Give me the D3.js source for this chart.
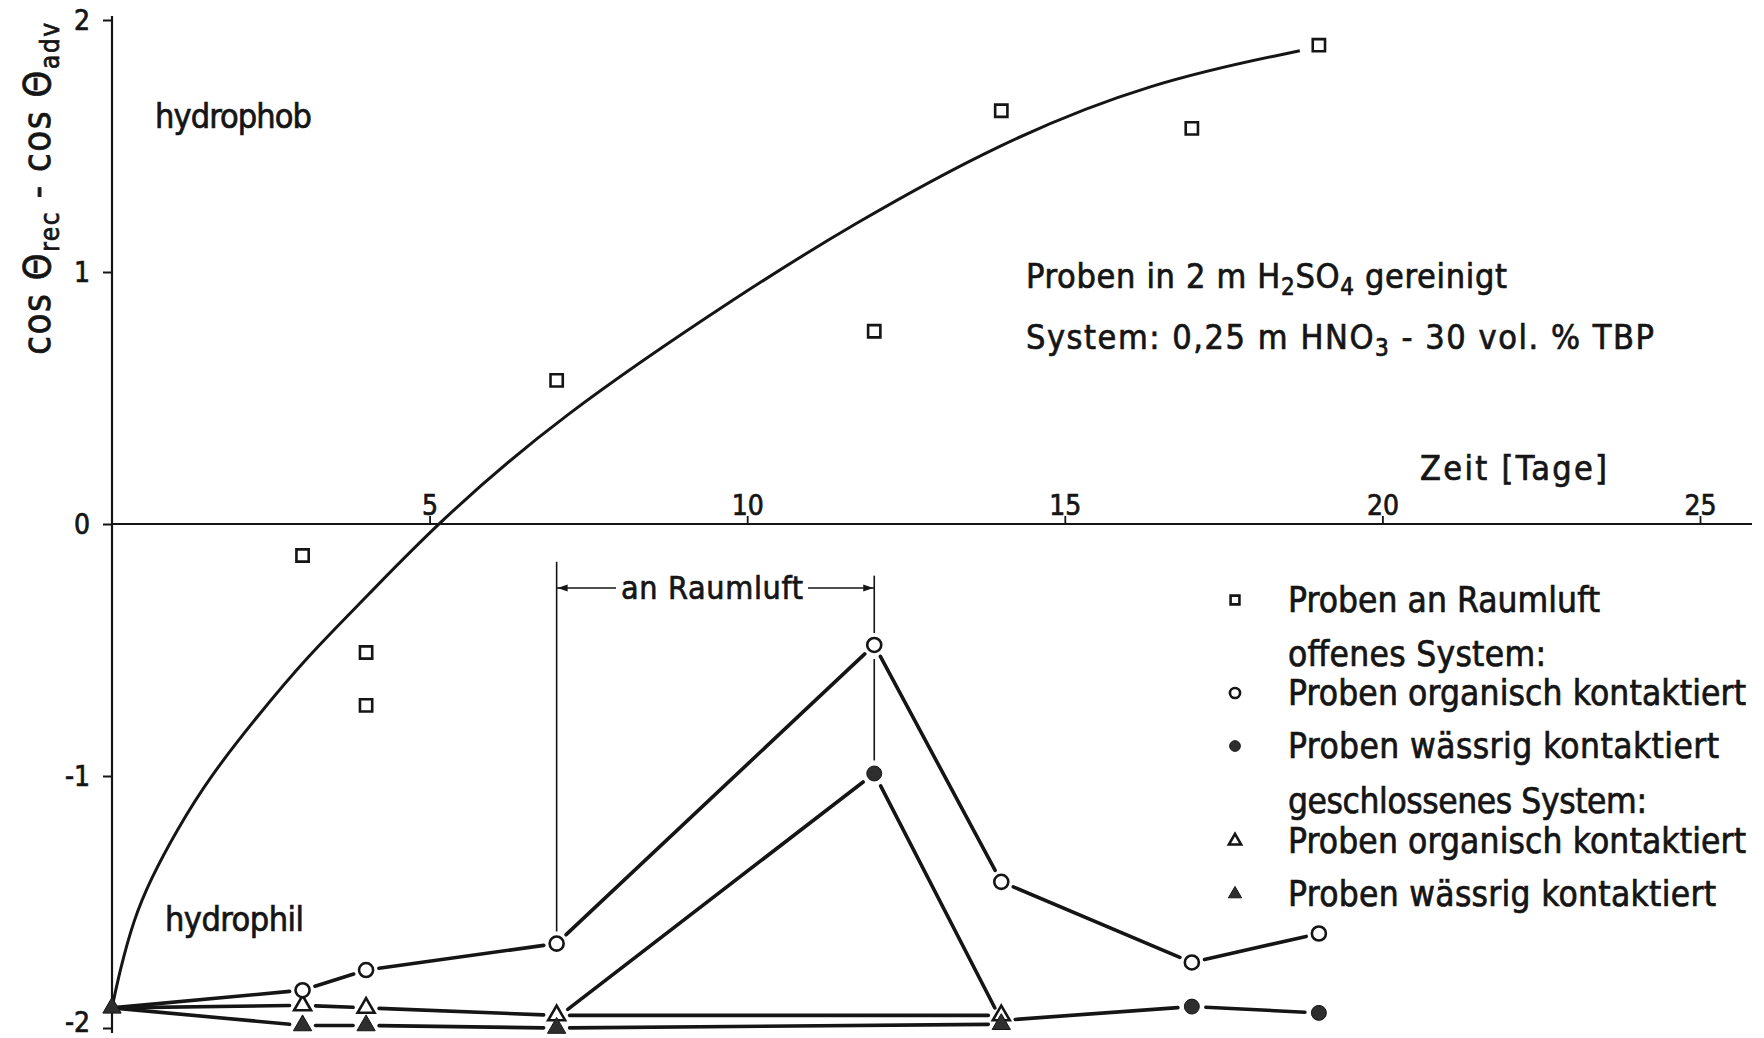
<!DOCTYPE html>
<html><head><meta charset="utf-8">
<script src="https://cdn.jsdelivr.net/npm/d3@7"></script>
<style>
body{margin:0;background:#fff}
svg{display:block}
text{font-family:'Liberation Sans Narrow','DejaVu Sans Condensed',sans-serif;fill:#151515;stroke:#151515;stroke-width:0.7px}
</style>
</head><body>
<svg id="chart" width="1764" height="1038"></svg>
<script>
// ---------- data ----------
const xTicks = [5, 10, 15, 20, 25];
const yTicks = [2, 1, 0, -1, -2];

// Proben an Raumluft (squares)
const raumluftTage  = [3, 4, 4, 7, 12, 14, 17, 19];
const raumluftWerte = [-0.125, -0.51, -0.72, 0.57, 0.765, 1.64, 1.57, 1.90];

// hand-drawn trend curve through the squares
const kurveTage  = [0, 0.126, 0.34, 0.60, 1.02, 1.54, 2.28, 3.07, 4.01, 5.11, 7, 10, 11.6, 13.94, 16.36, 18.7];
const kurveWerte = [-1.92, -1.77, -1.571, -1.413, -1.214, -1.003, -0.765, -0.527, -0.288, 0, 0.42, 0.93, 1.18, 1.51, 1.755, 1.878];

// offenes System
const orgOffenTage    = [0, 3, 4, 7, 12, 14, 17, 19];
const orgOffenWerte   = [-1.92, -1.85, -1.77, -1.665, -0.48, -1.42, -1.74, -1.625];
const waessOffenTage  = [7, 12, 14, 17, 19];
const waessOffenWerte = [-1.96, -0.99, -1.97, -1.915, -1.94];

// geschlossenes System
const orgGeschlTage    = [0, 3, 4, 7, 14];
const orgGeschlWerte   = [-1.92, -1.91, -1.92, -1.95, -1.95];
const waessGeschlTage  = [0, 3, 4, 7, 14];
const waessGeschlWerte = [-1.92, -1.99, -1.99, -2.0, -1.985];

// "an Raumluft" interval
const raumluftVon = 7, raumluftBis = 12, raumluftPfeilWert = -0.254;

const legendTexte = ["Proben an Raumluft", "offenes System:", "Proben organisch kontaktiert",
  "Proben wässrig kontaktiert", "geschlossenes System:", "Proben organisch kontaktiert", "Proben wässrig kontaktiert"];
const legendSymbole = ["square", null, "circleOpen", "circleFilled", null, "triOpen", "triFilled"];

// ---------- scales ----------
const svg = d3.select("#chart");
const x = d3.scaleLinear().domain([0, 25]).range([112, 1700]);
const y = d3.scaleLinear().domain([-2, 2]).range([1028, 20]);
const ink = "#151515", fillInk = "#2e2e2e";
const FONT = "'Liberation Sans Narrow','DejaVu Sans Condensed',sans-serif";

// ---------- axes ----------
const yAxis = d3.axisLeft(y).tickValues(yTicks).tickSize(9).tickPadding(13)
  .tickFormat(d => d < 0 ? "-" + Math.abs(d) : String(d));
const gy = svg.append("g").attr("transform", `translate(${x(0)},0)`).call(yAxis);
gy.select(".domain").remove();
gy.selectAll("line").attr("stroke", ink).attr("stroke-width", 2);
gy.selectAll("text").attr("font-size", 28).attr("dy", d => d === -2 ? "0.12em" : "0.33em")
  .style("font-family", FONT).attr("fill", ink);

const xAxis = d3.axisTop(x).tickValues(xTicks).tickSize(8).tickPadding(1).tickFormat(d => String(d));
const gx = svg.append("g").attr("transform", `translate(0,${y(0)})`).call(xAxis);
gx.select(".domain").remove();
gx.selectAll("line").attr("stroke", ink).attr("stroke-width", 1.8);
gx.selectAll("text").attr("font-size", 28).style("font-family", FONT).attr("fill", ink);

// axis lines
svg.append("line").attr("x1", x(0)).attr("x2", x(0)).attr("y1", y(2) - 4).attr("y2", y(-2) + 5)
  .attr("stroke", ink).attr("stroke-width", 2.2);
svg.append("line").attr("x1", x(0)).attr("x2", 1752).attr("y1", y(0)).attr("y2", y(0))
  .attr("stroke", ink).attr("stroke-width", 2.2);

// axis titles
const yt = svg.append("text").attr("transform", `translate(50,${y(1.33)}) rotate(-90)`)
  .attr("text-anchor", "middle").attr("font-size", 38).attr("textLength", 332).attr("lengthAdjust", "spacing");
yt.append("tspan").text("cos Θ");
yt.append("tspan").attr("dy", 9).attr("font-size", 26).text("rec");
yt.append("tspan").attr("dy", -9).text(" - cos Θ");
yt.append("tspan").attr("dy", 9).attr("font-size", 26).text("adv");

svg.append("text").attr("x", 1420).attr("y", 480).attr("font-size", 34)
  .attr("textLength", 187).attr("lengthAdjust", "spacing").text("Zeit [Tage]");

// annotations
svg.append("text").attr("x", 155).attr("y", 128).attr("font-size", 34)
  .attr("textLength", 157).attr("lengthAdjust", "spacing").text("hydrophob");
svg.append("text").attr("x", 165).attr("y", 931).attr("font-size", 34)
  .attr("textLength", 139).attr("lengthAdjust", "spacing").text("hydrophil");

const t1 = svg.append("text").attr("x", 1026).attr("y", 288).attr("font-size", 34)
  .attr("textLength", 481).attr("lengthAdjust", "spacing");
t1.append("tspan").text("Proben in 2 m H");
t1.append("tspan").attr("dy", 7).attr("font-size", 24).text("2");
t1.append("tspan").attr("dy", -7).text("SO");
t1.append("tspan").attr("dy", 7).attr("font-size", 24).text("4");
t1.append("tspan").attr("dy", -7).text(" gereinigt");

const t2 = svg.append("text").attr("x", 1026).attr("y", 349).attr("font-size", 34)
  .attr("textLength", 628).attr("lengthAdjust", "spacing");
t2.append("tspan").text("System: 0,25 m HNO");
t2.append("tspan").attr("dy", 7).attr("font-size", 24).text("3");
t2.append("tspan").attr("dy", -7).text(" - 30 vol. % TBP");

// ---------- trend curve ----------
const kurve = kurveTage.map((d, i) => [d, kurveWerte[i]]);
svg.append("path").datum(kurve)
  .attr("d", d3.line().x(d => x(d[0])).y(d => y(d[1])).curve(d3.curveBasis))
  .attr("fill", "none").attr("stroke", ink).attr("stroke-width", 3);

// ---------- "an Raumluft" bracket ----------
const seg = d3.line().x(d => d[0]).y(d => d[1]);
const thin = (pts) => svg.append("path").attr("d", seg(pts)).attr("fill", "none").attr("stroke", ink).attr("stroke-width", 1.6);
const orgAt = t => orgOffenWerte[orgOffenTage.indexOf(t)];
const waessAt = t => waessOffenWerte[waessOffenTage.indexOf(t)];
thin([[x(raumluftVon), y(-0.15)], [x(raumluftVon), y(orgAt(raumluftVon)) - 12]]);
thin([[x(raumluftBis), y(-0.205)], [x(raumluftBis), y(orgAt(raumluftBis)) - 12]]);
thin([[x(raumluftBis), y(orgAt(raumluftBis)) + 14], [x(raumluftBis), y(waessAt(raumluftBis)) - 13]]);
const ay = y(raumluftPfeilWert);
thin([[x(raumluftVon), ay], [616, ay]]);
thin([[808, ay], [x(raumluftBis), ay]]);
svg.append("path").attr("d", seg([[x(raumluftVon) + 1, ay], [x(raumluftVon) + 11, ay - 3.5], [x(raumluftVon) + 11, ay + 3.5]]) + "Z").attr("fill", ink);
svg.append("path").attr("d", seg([[x(raumluftBis) - 1, ay], [x(raumluftBis) - 11, ay - 3.5], [x(raumluftBis) - 11, ay + 3.5]]) + "Z").attr("fill", ink);
svg.append("text").attr("x", 621).attr("y", 599).attr("font-size", 32)
  .attr("textLength", 182).attr("lengthAdjust", "spacing").text("an Raumluft");

// ---------- series lines with gaps at markers ----------
function drawSeries(tage, werte, gap) {
  for (let i = 0; i < tage.length - 1; i++) {
    const p = [x(tage[i]), y(werte[i])], q = [x(tage[i + 1]), y(werte[i + 1])];
    const dx = q[0] - p[0], dy = q[1] - p[1], L = Math.hypot(dx, dy);
    const g0 = tage[i] === 0 ? 0 : gap, g1 = gap;
    const a = [p[0] + dx * g0 / L, p[1] + dy * g0 / L], b = [q[0] - dx * g1 / L, q[1] - dy * g1 / L];
    svg.append("path").attr("d", seg([a, b])).attr("fill", "none")
      .attr("stroke", ink).attr("stroke-width", 3.6).attr("stroke-linecap", "round");
  }
}
drawSeries(orgOffenTage, orgOffenWerte, 13);
drawSeries(waessOffenTage, waessOffenWerte, 14);
drawSeries(orgGeschlTage, orgGeschlWerte, 13);
drawSeries(waessGeschlTage, waessGeschlWerte, 13);

// ---------- markers ----------
function marker(sel, kind, scale) {
  const s = scale || 1;
  if (kind === "square") sel.attr("d", d3.symbol(d3.symbolSquare, 150 * s * s)()).attr("fill", "#fff").attr("stroke", ink).attr("stroke-width", 2.6);
  if (kind === "circleOpen") sel.attr("d", d3.symbol(d3.symbolCircle, 155 * s * s)()).attr("fill", "#fff").attr("stroke", ink).attr("stroke-width", 2.6);
  if (kind === "circleFilled") sel.attr("d", d3.symbol(d3.symbolCircle, 175 * s * s)()).attr("fill", fillInk).attr("stroke", ink).attr("stroke-width", 1);
  if (kind === "triOpen") sel.attr("d", d3.symbol(d3.symbolTriangle, 125 * s * s)()).attr("fill", "#fff").attr("stroke", ink).attr("stroke-width", 2.6);
  if (kind === "triFilled") sel.attr("d", d3.symbol(d3.symbolTriangle, 145 * s * s)()).attr("fill", fillInk).attr("stroke", ink).attr("stroke-width", 1);
}
function drawMarkers(tage, werte, kind, skip) {
  tage.forEach((t, i) => {
    if (skip && skip(t)) return;
    svg.append("path").attr("transform", `translate(${x(t)},${y(werte[i])})`).call(marker, kind);
  });
}
drawMarkers(raumluftTage, raumluftWerte, "square");
drawMarkers(orgGeschlTage, orgGeschlWerte, "triOpen", t => t === 0);
drawMarkers(waessGeschlTage, waessGeschlWerte, "triFilled");
drawMarkers(orgOffenTage, orgOffenWerte, "circleOpen", t => t === 0);
drawMarkers(waessOffenTage, waessOffenWerte, "circleFilled", t => orgGeschlTage.includes(t));

// ---------- legend ----------
const legendY = [600, 654, 693, 746, 801, 841, 894];
const legendBreiten = [312, 258, 458, 431, 359, 458, 428];
legendTexte.forEach((txt, i) => {
  svg.append("text").attr("x", 1288).attr("y", legendY[i] + 12).attr("font-size", 35)
    .attr("textLength", legendBreiten[i]).attr("lengthAdjust", "spacing").text(txt);
  if (legendSymbole[i]) svg.append("path").attr("transform", `translate(1235,${legendY[i]})`).call(marker, legendSymbole[i], 0.72);
});
</script>
</body></html>
